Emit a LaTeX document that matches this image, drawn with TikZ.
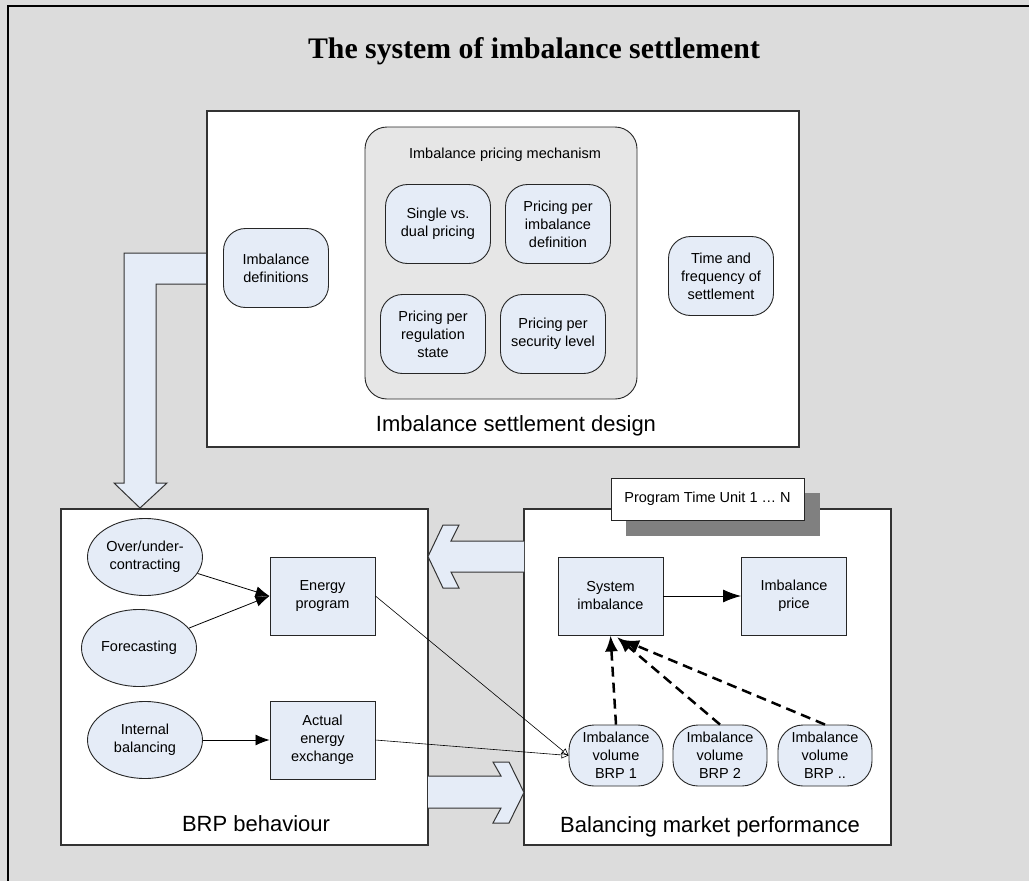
\documentclass[tikz,border=0pt]{standalone}
\usepackage{fontspec}
\setmainfont{Liberation Sans}
\newfontfamily\titlefont{Liberation Serif}
\usetikzlibrary{arrows.meta,shapes.geometric}
\definecolor{bg}{HTML}{DCDCDC}
\definecolor{nodeblue}{HTML}{E5ECF7}
\definecolor{groupgray}{HTML}{E6E6E6}
\definecolor{shadowgray}{HTML}{808080}
\definecolor{edgecol}{HTML}{333333}
\begin{document}
\begin{tikzpicture}[x=1pt,y=-1pt,
  panel/.style={draw=edgecol, line width=1.3pt, fill=white, inner sep=0pt},
  bigtxt/.style={font=\fontsize{22}{26}\selectfont, anchor=base, inner sep=0pt},
  txt/.style={font=\fontsize{14.5}{18}\selectfont, align=center},
  rnode/.style={txt, draw=black!85, line width=0.9pt, fill=nodeblue, rounded corners=22pt, minimum width=105pt, minimum height=79pt, inner sep=1pt},
  vnode/.style={txt, draw=black!85, line width=0.9pt, fill=nodeblue, rounded corners=25pt, minimum width=94pt, minimum height=61pt, inner sep=0pt},
  snode/.style={txt, draw=black!85, line width=0.9pt, fill=nodeblue, minimum width=105pt, minimum height=78pt, inner sep=1pt},
  enode/.style={txt, ellipse, draw=black!85, line width=0.9pt, fill=nodeblue, minimum width=115pt, minimum height=77pt, inner sep=0pt},
  thinarrow/.style={draw=black, line width=0.8pt, -{Latex[length=14pt,width=11pt]}},
  bigarrow/.style={draw=black, line width=1pt, -{Latex[length=18pt,width=13pt]}},
  openarrow/.style={draw=black, line width=0.6pt, -{Triangle[open,length=7pt,width=7pt]}},
  dasharrow/.style={draw=black, line width=2.5pt, dash pattern=on 10pt off 6pt, -{Latex[length=16pt,width=13pt]}},
  fatfill/.style={fill=nodeblue},
  fatline/.style={draw=edgecol, line width=1pt, line join=miter}
]
\useasboundingbox (0,0) rectangle (1029,881);
\fill[bg] (0,0) rectangle (1029,881);
\draw[line width=2pt] (8.3,881) -- (8.3,6) -- (1029,6);

% title
\node[font=\titlefont\bfseries\fontsize{29.8}{34}\selectfont, anchor=base, inner sep=0pt] (title) at (534,58) {The system of imbalance settlement};

% L-shaped fat arrow from design panel to BRP panel
\fill[fatfill] (207,253) -- (124,253) -- (124,483) -- (114,483) -- (140,508) -- (167,483) -- (156,483) -- (156,284) -- (207,284) -- cycle;
\draw[fatline] (207,253) -- (124,253) -- (124,483) -- (114,483) -- (140,508) -- (167,483) -- (156,483) -- (156,284) -- (207,284);

% design panel
\node[panel, minimum width=592pt, minimum height=336pt] (design) at (503,279) {};
\node[draw=black!85, line width=0.9pt, fill=groupgray, rounded corners=22pt, minimum width=272pt, minimum height=272pt] (group) at (501,263) {};
\node[txt] (grouplabel) at (505,155) {Imbalance pricing mechanism};
\node[rnode] (single) at (438,224) {Single vs.\\dual pricing};
\node[rnode] (perdef) at (558,224) {Pricing per\\imbalance\\definition};
\node[rnode] (reg) at (433,334) {Pricing per\\regulation\\state};
\node[rnode] (sec) at (553,334) {Pricing per\\security level};
\node[rnode] (impdef) at (276,268) {Imbalance\\definitions};
\node[rnode] (timefreq) at (721,276) {Time and\\frequency of\\settlement};
\node[bigtxt] (designlabel) at (516,431) {Imbalance settlement design};

% BRP panel
\node[panel, minimum width=367pt, minimum height=336pt] (brp) at (244.5,677) {};
\node[bigtxt] (brplabel) at (256,831) {BRP behaviour};
\node[enode] (over) at (145,557) {Over/under-\\contracting};
\node[enode] (fore) at (139,648) {Forecasting};
\node[enode] (internal) at (145,740) {Internal\\balancing};
\node[snode] (energy) at (322.5,596) {Energy\\program};
\node[snode] (actual) at (322.5,740) {Actual\\energy\\exchange};

% balancing panel
\node[panel, minimum width=367pt, minimum height=336pt] (bal) at (707.5,677) {};
\fill[shadowgray] (626,493) rectangle (820,536);
\node[draw=black!85, line width=0.9pt, fill=white, minimum width=193pt, minimum height=42pt, txt] (ptu) at (707.5,499) {Program Time Unit 1 … N};
\node[bigtxt] (ballabel) at (710,832) {Balancing market performance};
\node[snode] (sys) at (610.5,596) {System\\imbalance};
\node[snode] (price) at (794,596) {Imbalance\\price};
\node[vnode] (b1) at (616,755.5) {Imbalance\\volume\\BRP 1};
\node[vnode] (b2) at (720,755.5) {Imbalance\\volume\\BRP 2};
\node[vnode] (b3) at (825,755.5) {Imbalance\\volume\\BRP ..};

% fat arrow balancing -> BRP (top)
\fill[fatfill] (524,541) -- (451,541) -- (459,525) -- (443,525) -- (428,556.5) -- (443,588) -- (459,588) -- (451,572) -- (524,572) -- cycle;
\draw[fatline] (524,541) -- (451,541) -- (459,525) -- (443,525) -- (428,556.5) -- (443,588) -- (459,588) -- (451,572) -- (524,572);
% fat arrow BRP -> balancing (bottom)
\fill[fatfill] (428,776) -- (501,776) -- (493,762) -- (509,762) -- (524,792.5) -- (509,823) -- (493,823) -- (501,808) -- (428,808) -- cycle;
\draw[fatline] (428,776) -- (501,776) -- (493,762) -- (509,762) -- (524,792.5) -- (509,823) -- (493,823) -- (501,808) -- (428,808);

% connectors
\draw[thinarrow] (over) -- (energy.west);
\draw[thinarrow] (fore) -- (energy.west);
\draw[thinarrow] (internal) -- (actual.west);
\draw[openarrow] (energy.east) -- (b1.west);
\draw[openarrow] (actual.east) -- (b1.west);
\draw[bigarrow] (sys.east) -- (price.west);
\coordinate (t2) at (617,637);
\coordinate (t3) at (623,640);
\draw[dasharrow] (b1.north) -- (sys.south);
\draw[dasharrow] (b2.north) -- (t2);
\draw[dasharrow] (b3.north) -- (t3);
\end{tikzpicture}
\end{document}
